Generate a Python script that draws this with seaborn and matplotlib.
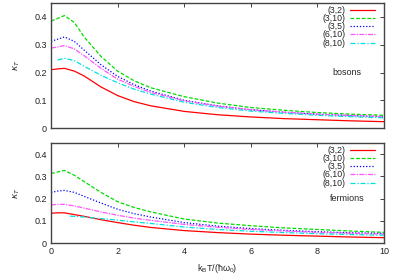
import numpy as np
import pandas as pd
import matplotlib
matplotlib.use("Agg")
import matplotlib.pyplot as plt
import seaborn as sns

# temperature grid
x = [0, 0.2, 0.4, 0.7, 1, 1.5, 2, 2.5, 3, 4, 5, 6, 7, 8, 9, 10]
x_cyan_b = [0.2, 0.4, 0.7, 1, 1.5, 2, 2.5, 3, 4, 5, 6, 7, 8, 9, 10]
x_cyan_f = [0.57, 0.7, 1, 1.5, 2, 2.5, 3, 4, 5, 6, 7, 8, 9, 10]

labels = ['(3,2)', '(3,10)', '(3,5)', '(6,10)', '(8,10)']
colors = ['#ff0000', '#00dd00', '#0000ff', '#ff55ff', '#00e0e0']
styles = ['-', (0, (3, 1.5)), (0, (1, 1.5)), (0, (4, 1, 1, 1)), (0, (4, 1.5, 1, 1.5))]

bosons = [
    [0.210, 0.213, 0.215, 0.205, 0.187, 0.148, 0.117, 0.095, 0.080, 0.060, 0.048, 0.040, 0.034, 0.030, 0.026, 0.023],
    [0.385, 0.395, 0.405, 0.380, 0.327, 0.258, 0.205, 0.170, 0.145, 0.113, 0.090, 0.074, 0.064, 0.056, 0.050, 0.046],
    [0.312, 0.320, 0.328, 0.312, 0.280, 0.228, 0.186, 0.156, 0.133, 0.100, 0.080, 0.066, 0.057, 0.050, 0.045, 0.041],
    [0.288, 0.292, 0.297, 0.285, 0.260, 0.215, 0.176, 0.150, 0.128, 0.098, 0.079, 0.066, 0.057, 0.050, 0.045, 0.041],
    [0.245, 0.251, 0.243, 0.222, 0.190, 0.163, 0.140, 0.122, 0.093, 0.074, 0.061, 0.053, 0.046, 0.041, 0.037],
]
fermions = [
    [0.134, 0.136, 0.136, 0.128, 0.120, 0.105, 0.092, 0.080, 0.070, 0.056, 0.047, 0.040, 0.035, 0.031, 0.027, 0.024],
    [0.313, 0.320, 0.327, 0.305, 0.276, 0.228, 0.186, 0.160, 0.140, 0.108, 0.090, 0.078, 0.068, 0.061, 0.054, 0.048],
    [0.228, 0.234, 0.237, 0.228, 0.210, 0.180, 0.152, 0.132, 0.117, 0.092, 0.076, 0.065, 0.057, 0.051, 0.046, 0.043],
    [0.172, 0.174, 0.174, 0.167, 0.157, 0.140, 0.125, 0.112, 0.102, 0.084, 0.071, 0.061, 0.054, 0.048, 0.044, 0.040],
    [0.121, 0.120, 0.117, 0.110, 0.103, 0.095, 0.088, 0.072, 0.061, 0.053, 0.047, 0.042, 0.038, 0.035],
]

sns.set_style('white')
plt.rcParams['font.family'] = ['Liberation Sans', 'DejaVu Sans']
plt.rcParams['mathtext.fontset'] = 'dejavusans'

fig = plt.figure(figsize=(3.99, 2.79), dpi=100)
ax1 = fig.add_axes([0.128, 0.541, 0.834, 0.448])
ax2 = fig.add_axes([0.128, 0.129, 0.834, 0.358])

for ax, data, xc, name, top in [(ax1, bosons, x_cyan_b, 'bosons', 0.976),
                                (ax2, fermions, x_cyan_f, 'fermions', 0.97)]:
    for i, lab in enumerate(labels):
        xs = xc if i == 4 else x
        sns.lineplot(x=xs, y=data[i], color=colors[i], linestyle=styles[i], lw=0.9,
                     label=lab, ax=ax)
    ax.set_xlim(0, 10)
    ax.set_ylim(0, 0.45)
    ax.set_xticks([0, 2, 4, 6, 8, 10])
    ax.set_yticks([0, 0.1, 0.2, 0.3, 0.4])
    ax.set_yticklabels(['0', '0.1', '0.2', '0.3', '0.4'])
    ax.tick_params(direction='in', length=3, width=0.6, top=True, right=True,
                   labelsize=6.5, colors='#222222', pad=3)
    for s in ax.spines.values():
        s.set_color('#444444')
        s.set_linewidth(1.0)
    ax.set_ylabel(r'$\kappa_T$', fontsize=6.5, labelpad=9)
    ax.text(8.9, 0.2, name, fontsize=6.5, ha='center', va='center')
    ax.legend(loc='upper right', bbox_to_anchor=(0.973, top), frameon=False,
              markerfirst=False, fontsize=6.3, handlelength=2.85, labelspacing=-0.1,
              borderaxespad=0, borderpad=0, handletextpad=0.5)

ax1.tick_params(labelbottom=False)
ax2.set_xlabel(r'$\mathregular{k_BT/(\hbar\omega_0)}$', fontsize=6.5, labelpad=4)

fig.savefig('out.png', dpi=100)
